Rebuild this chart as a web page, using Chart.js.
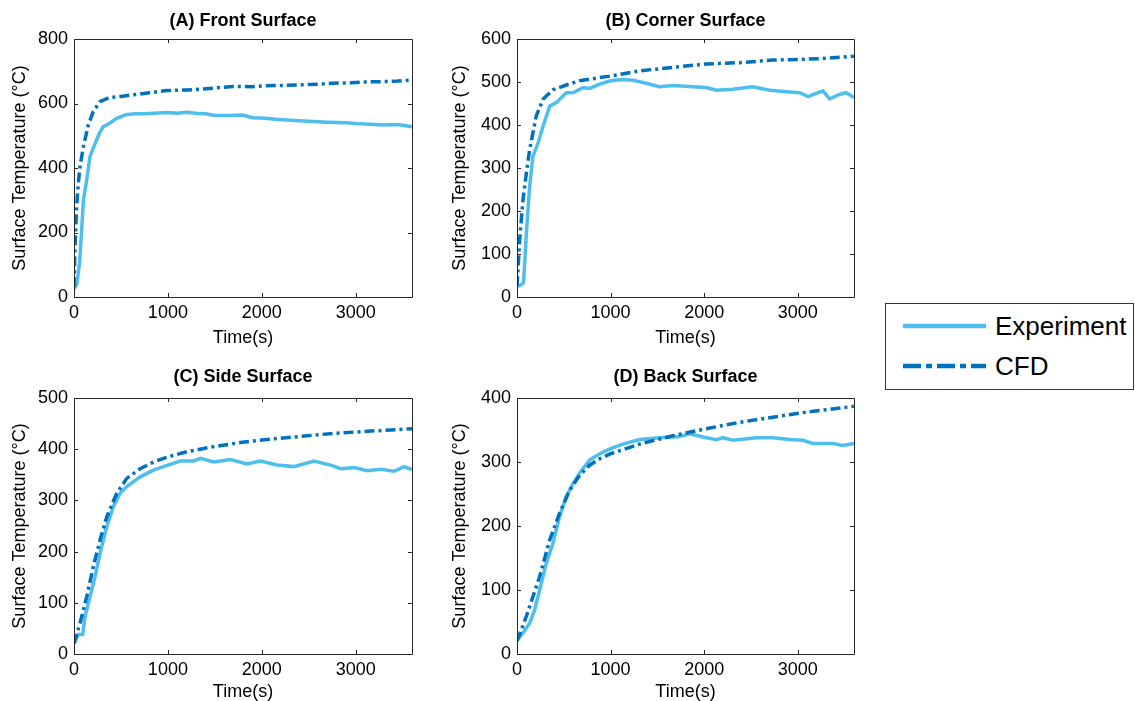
<!DOCTYPE html>
<html>
<head>
<meta charset="utf-8">
<script src="https://cdn.jsdelivr.net/npm/chart.js@4"></script>
<style>
  html, body { margin: 0; padding: 0; background: #fff; }
  body { width: 1135px; height: 701px; position: relative; overflow: hidden; font-family: 'Liberation Sans', Arial, sans-serif; }
  .panel { position: absolute; }
  .legend { position: absolute; left: 885px; top: 303px; width: 247px; height: 85px; border: 1px solid #333; background: #fff; z-index: 5; }
  .legend svg { position: absolute; left: 0; top: 0; }
  .legend span { position: absolute; left: 109px; font-size: 26px; line-height: 30px; color: #000; }
</style>
</head>
<body>
<div class="panel" style="left:0;top:0;width:486px;height:350px"><canvas id="chartA"></canvas></div>
<div class="panel" style="left:440px;top:0;width:491px;height:350px"><canvas id="chartB"></canvas></div>
<div class="panel" style="left:0;top:350px;width:486px;height:351px"><canvas id="chartC"></canvas></div>
<div class="panel" style="left:440px;top:350px;width:491px;height:351px"><canvas id="chartD"></canvas></div>

<div class="legend">
  <svg width="100" height="85">
    <line x1="17" y1="22" x2="100" y2="22" stroke="#4DBEEE" stroke-width="4.5"/>
    <line x1="17" y1="62" x2="100" y2="62" stroke="#0072BD" stroke-width="4.5" stroke-dasharray="18 5 6 5"/>
  </svg>
  <span style="top:7px">Experiment</span>
  <span style="top:47px">CFD</span>
</div>

<script>
// -----------------------------------------------------------------
// data (time in s, temperature in °C)
const expTimeA = [0, 30, 60, 80, 100, 135, 170, 240, 280, 310, 380, 455, 550, 650, 750, 850, 985, 1100, 1200, 1300, 1400, 1500, 1650, 1800, 1900, 2000, 2150, 2300, 2500, 2700, 2900, 3000, 3150, 3300, 3450, 3600];
const expTempA = [25, 40, 110, 200, 300, 363, 435, 487, 513, 528, 539, 554, 565, 568, 568, 570, 572, 570, 573, 570, 568, 563, 563, 564, 556, 555, 551, 548, 545, 542, 540, 538, 536, 533, 535, 528];
const cfdTimeA = [0, 10, 28, 45, 64, 100, 152, 205, 276, 383, 500, 630, 800, 985, 1200, 1340, 1500, 1695, 1900, 2050, 2250, 2400, 2600, 2760, 2950, 3110, 3300, 3450, 3600];
const cfdTempA = [30, 150, 280, 350, 404, 466, 533, 575, 606, 619, 622, 627, 633, 640, 642, 644, 648, 653, 652, 655, 656, 658, 660, 663, 664, 667, 668, 670, 673];

const expTimeB = [0, 40, 70, 100, 135, 170, 225, 278, 350, 420, 527, 598, 705, 775, 883, 1000, 1130, 1240, 1380, 1520, 1665, 1880, 2020, 2130, 2305, 2520, 2700, 2910, 3020, 3110, 3200, 3270, 3340, 3445, 3515, 3600];
const expTempB = [25, 28, 33, 148, 257, 327, 358, 397, 444, 452, 475, 475, 487, 485, 495, 503, 506, 504, 497, 489, 492, 489, 487, 481, 483, 489, 481, 477, 475, 466, 474, 479, 461, 471, 475, 464];
const cfdTimeB = [0, 10, 28, 64, 100, 135, 206, 278, 384, 527, 669, 847, 1000, 1310, 1665, 2020, 2377, 2733, 3090, 3300, 3600];
const cfdTempB = [25, 62, 132, 226, 288, 343, 421, 460, 482, 493, 503, 509, 514, 526, 534, 542, 545, 551, 553, 555, 560];

const expTimeC = [0, 46, 93, 117, 171, 224, 278, 349, 420, 491, 562, 705, 847, 1000, 1132, 1274, 1345, 1488, 1665, 1843, 1986, 2164, 2342, 2555, 2733, 2840, 2982, 3124, 3267, 3409, 3516, 3600];
const expTempC = [21, 38, 38, 73, 112, 151, 197, 249, 288, 314, 327, 346, 359, 369, 377, 377, 382, 375, 380, 371, 377, 369, 366, 377, 369, 362, 364, 358, 361, 357, 366, 360];
const cfdTimeC = [0, 64, 135, 206, 278, 349, 455, 562, 705, 847, 1000, 1203, 1488, 1772, 2057, 2413, 2769, 3124, 3600];
const cfdTempC = [20, 60, 112, 171, 223, 268, 314, 343, 362, 375, 385, 395, 405, 413, 419, 425, 431, 435, 440];

const expTimeD = [0, 64, 135, 189, 242, 313, 384, 455, 527, 598, 669, 776, 883, 1000, 1132, 1310, 1523, 1737, 1843, 1986, 2128, 2199, 2306, 2555, 2733, 2911, 3053, 3160, 3374, 3480, 3600];
const expTempD = [22, 33, 48, 69, 100, 142, 173, 215, 246, 266, 283, 303, 313, 321, 328, 335, 338, 340, 344, 339, 335, 338, 334, 338, 338, 335, 334, 329, 329, 326, 329];
const cfdTimeD = [0, 100, 171, 242, 349, 455, 562, 669, 776, 883, 1000, 1310, 1665, 2021, 2377, 2733, 3089, 3600];
const cfdTempD = [20, 59, 90, 121, 178, 220, 256, 279, 295, 305, 313, 328, 341, 352, 362, 370, 378, 387];

const xTicks = [0, 1000, 2000, 3000];
const yTicksA = [0, 200, 400, 600, 800];
const yTicksB = [0, 100, 200, 300, 400, 500, 600];
const yTicksC = [0, 100, 200, 300, 400, 500];
const yTicksD = [0, 100, 200, 300, 400];

const titles = ['(A) Front Surface', '(B) Corner Surface', '(C) Side Surface', '(D) Back Surface'];

// -----------------------------------------------------------------
const EXP_COLOR = '#4DBEEE';
const CFD_COLOR = '#0072BD';
const FONT = "'Liberation Sans', Arial, sans-serif";

function toPoints(times, temps) {
  return times.map((t, i) => ({ x: t, y: temps[i] }));
}

// matlab style box with inward ticks on all four sides
const boxTicks = {
  id: 'boxTicks',
  afterDraw(chart) {
    const { ctx, chartArea: { left, right, top, bottom }, scales: { x, y } } = chart;
    const len = 4;
    ctx.save();
    ctx.strokeStyle = '#262626';
    ctx.lineWidth = 1;
    ctx.beginPath();
    ctx.rect(Math.round(left) + 0.5, Math.round(top) + 0.5, Math.round(right - left), Math.round(bottom - top));
    x.ticks.forEach((t) => {
      const px = Math.round(x.getPixelForValue(t.value)) + 0.5;
      ctx.moveTo(px, bottom); ctx.lineTo(px, bottom - len);
      ctx.moveTo(px, top); ctx.lineTo(px, top + len);
    });
    y.ticks.forEach((t) => {
      const py = Math.round(y.getPixelForValue(t.value)) + 0.5;
      ctx.moveTo(left, py); ctx.lineTo(left + len, py);
      ctx.moveTo(right, py); ctx.lineTo(right - len, py);
    });
    ctx.stroke();
    ctx.restore();
  }
};

function makeChart(id, o) {
  const ctx = document.getElementById(id).getContext('2d');
  return new Chart(ctx, {
    type: 'line',
    data: {
      datasets: [
        {
          label: 'CFD',
          data: toPoints(o.cfdTime, o.cfdTemp),
          borderColor: CFD_COLOR,
          borderWidth: 3.5,
          borderDash: [10, 4, 3, 4],
          pointRadius: 0,
          tension: 0,
          fill: false,
        },
        {
          label: 'Experiment',
          data: toPoints(o.expTime, o.expTemp),
          borderColor: EXP_COLOR,
          borderWidth: 3.5,
          pointRadius: 0,
          tension: 0,
          fill: false,
        },
      ],
    },
    options: {
      responsive: true,
      maintainAspectRatio: false,
      animation: false,
      layout: { padding: 0 },
      plugins: {
        legend: { display: false },
        tooltip: { enabled: false },
        title: {
          display: true,
          text: o.title,
          color: '#000',
          font: { family: FONT, size: 18, weight: 'bold', lineHeight: 1.2 },
          padding: { top: o.titleTop, bottom: o.titleBottom },
        },
      },
      scales: {
        x: {
          type: 'linear',
          min: 0,
          max: 3600,
          grid: { display: false, drawTicks: false },
          border: { display: false },
          afterBuildTicks: (scale) => { scale.ticks = xTicks.map((v) => ({ value: v })); },
          afterFit: (scale) => { scale.height = o.xHeight; },
          ticks: { color: '#000', padding: 5, font: { family: FONT, size: 18 }, callback: (v) => String(v) },
          title: {
            display: true,
            text: 'Time(s)',
            color: '#000',
            font: { family: FONT, size: 18 },
            padding: { top: 0, bottom: o.xTitleBottom },
          },
        },
        y: {
          type: 'linear',
          min: o.yTicks[0],
          max: o.yTicks[o.yTicks.length - 1],
          grid: { display: false, drawTicks: false },
          border: { display: false },
          afterBuildTicks: (scale) => { scale.ticks = o.yTicks.map((v) => ({ value: v })); },
          afterFit: (scale) => { scale.width = o.yWidth; },
          ticks: { color: '#000', padding: 6, font: { family: FONT, size: 18 }, callback: (v) => String(v) },
          title: {
            display: true,
            text: 'Surface Temperature (°C)',
            color: '#000',
            font: { family: FONT, size: 18 },
            padding: { top: 9, bottom: 0 },
          },
        },
        // empty right axis, only keeps the title centred over the plot box
        yRight: {
          type: 'linear',
          position: 'right',
          grid: { display: false, drawTicks: false },
          border: { display: false },
          ticks: { display: false },
          afterFit: (scale) => { scale.width = o.yWidth; },
        },
      },
    },
    plugins: [boxTicks],
  });
}

// -----------------------------------------------------------------
makeChart('chartA', {
  title: titles[0], expTime: expTimeA, expTemp: expTempA, cfdTime: cfdTimeA, cfdTemp: cfdTempA,
  yTicks: yTicksA, yWidth: 74, xHeight: 53, titleTop: 10, titleBottom: 7.4, xTitleBottom: 1,
});
makeChart('chartB', {
  title: titles[1], expTime: expTimeB, expTemp: expTempB, cfdTime: cfdTimeB, cfdTemp: cfdTempB,
  yTicks: yTicksB, yWidth: 77, xHeight: 53, titleTop: 10, titleBottom: 7.4, xTitleBottom: 1,
});
makeChart('chartC', {
  title: titles[2], expTime: expTimeC, expTemp: expTempC, cfdTime: cfdTimeC, cfdTemp: cfdTempC,
  yTicks: yTicksC, yWidth: 74, xHeight: 47, titleTop: 16, titleBottom: 10.4, xTitleBottom: -2,
});
makeChart('chartD', {
  title: titles[3], expTime: expTimeD, expTemp: expTempD, cfdTime: cfdTimeD, cfdTemp: cfdTempD,
  yTicks: yTicksD, yWidth: 77, xHeight: 47, titleTop: 16, titleBottom: 10.4, xTitleBottom: -2,
});
</script>
</body>
</html>
